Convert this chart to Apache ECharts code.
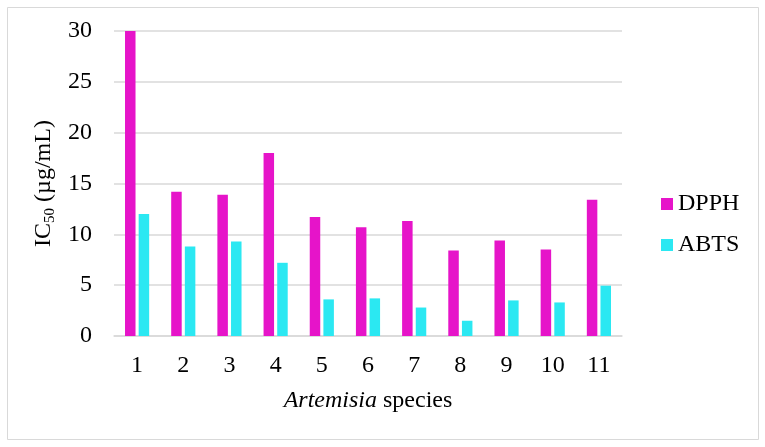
<!DOCTYPE html>
<html>
<head>
<meta charset="utf-8">
<script src="https://cdn.jsdelivr.net/npm/echarts@6/dist/echarts.min.js"></script>
<style>
html,body{margin:0;padding:0;background:#fff;}
#c{width:765px;height:447px;}
</style>
</head>
<body>
<div id="c"></div>
<script>
const categories = ['1','2','3','4','5','6','7','8','9','10','11'];
const dpph = [30.0, 14.2, 13.9, 18.0, 11.7, 10.7, 11.3, 8.4, 9.4, 8.5, 13.4];
const abts = [12.0, 8.8, 9.3, 7.2, 3.6, 3.7, 2.8, 1.5, 3.5, 3.3, 4.95];
const seriesNames = ['DPPH', 'ABTS'];

const FONT = '"Liberation Serif", "Times New Roman", serif';
const chart = echarts.init(document.getElementById('c'));
chart.setOption({
  animation: false,
  backgroundColor: '#fff',
  textStyle: { fontFamily: FONT },
  graphic: [{
    type: 'rect',
    shape: { x: 7.5, y: 7.5, width: 751, height: 432 },
    style: { fill: 'none', stroke: '#d9d9d9', lineWidth: 1 },
    silent: true
  }],
  grid: { left: 114, right: 143, top: 31, bottom: 111, containLabel: false },
  legend: {
    orient: 'vertical',
    left: 656,
    top: 187,
    itemWidth: 12,
    itemHeight: 12,
    itemGap: 17,
    icon: 'rect',
    textStyle: { fontFamily: FONT, fontSize: 24, color: '#000' },
    data: seriesNames
  },
  xAxis: {
    type: 'category',
    data: categories,
    axisTick: { show: false },
    axisLine: { lineStyle: { color: '#d9d9d9', width: 1.5 } },
    axisLabel: { fontFamily: FONT, fontSize: 24, color: '#000', margin: 18 },
    name: '{i|Artemisia}{n| species}',
    nameLocation: 'middle',
    nameGap: 53,
    nameTextStyle: {
      rich: {
        i: { fontFamily: FONT, fontSize: 24, fontStyle: 'italic', color: '#000' },
        n: { fontFamily: FONT, fontSize: 24, color: '#000' }
      }
    }
  },
  yAxis: {
    type: 'value',
    min: 0, max: 30, interval: 5,
    axisLine: { show: false },
    axisTick: { show: false },
    splitLine: { lineStyle: { color: '#d9d9d9', width: 1.5 } },
    axisLabel: { fontFamily: FONT, fontSize: 24, color: '#000', margin: 22 },
    name: '{a|IC}{b|50}{a| (µg/mL)}',
    nameLocation: 'middle',
    nameGap: 51,
    nameTextStyle: {
      rich: {
        a: { fontFamily: FONT, fontSize: 24, color: '#000' },
        b: { fontFamily: FONT, fontSize: 15, color: '#000', padding: [12, 0, 0, 0] }
      }
    }
  },
  series: [
    { name: seriesNames[0], type: 'bar', data: dpph, barWidth: 10.5, barGap: '30%',
      itemStyle: { color: '#e614c9' } },
    { name: seriesNames[1], type: 'bar', data: abts, barWidth: 10.5, barGap: '30%',
      itemStyle: { color: '#2be8f2' } }
  ]
});
</script>
</body>
</html>
